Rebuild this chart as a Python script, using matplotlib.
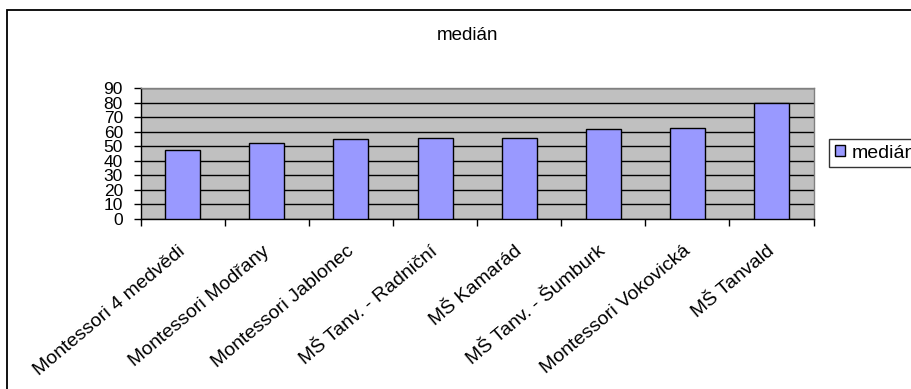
import numpy as np
import matplotlib
matplotlib.use('Agg')
import matplotlib.pyplot as plt
import matplotlib.patches as mpatches

# data
categories = ['Montessori 4 medvědi', 'Montessori Modřany', 'Montessori Jablonec',
              'MŠ Tanv. - Radniční', 'MŠ Kamarád', 'MŠ Tanv. - Šumburk',
              'Montessori Vokovická', 'MŠ Tanvald']
median_values = [47.2, 52.2, 54.8, 55.9, 55.9, 61.6, 62.8, 80.0]
y_ticks = [0, 10, 20, 30, 40, 50, 60, 70, 80, 90]
series_name = 'medián'

W, H = 912, 389
plt.rcParams['font.family'] = ['Liberation Sans', 'DejaVu Sans']


def plot_median(cats, values):
    fig = plt.figure(figsize=(W / 100, H / 100), dpi=100)
    fig.patch.set_facecolor('white')
    ax = fig.add_axes([140.7 / W, 1 - 218.7 / H, (813.5 - 140.7) / W, (218.7 - 88.3) / H])

    x = np.arange(len(cats))
    ax.set_facecolor('#c0c0c0')
    ax.bar(x, values, width=0.415, color='#9999ff', edgecolor='black',
           linewidth=1.0, label=series_name, zorder=3)

    ax.set_xlim(-0.5, len(cats) - 0.5)
    ax.set_ylim(0, 90)
    ax.set_yticks(y_ticks)
    ax.yaxis.grid(True, color='black', linewidth=1.0, zorder=1)
    ax.set_axisbelow(True)

    # ticks sit on the category boundaries, labels are placed at the centres
    ax.set_xticks(np.arange(len(cats) + 1) - 0.5)
    ax.set_xticklabels([])
    ax.tick_params(axis='x', direction='out', length=5, width=1)
    ax.tick_params(axis='y', direction='out', length=4.8, width=1, pad=8, labelsize=12.5)
    for i, cat in enumerate(cats):
        ax.annotate(cat, xy=(i, 0), xycoords=('data', 'axes fraction'),
                    xytext=(-3.6, -17.3), textcoords='offset points',
                    rotation=40, rotation_mode='anchor', ha='right', va='top',
                    fontsize=14)

    for side in ['top', 'right']:
        ax.spines[side].set_color('#808080')
        ax.spines[side].set_linewidth(1.0)
    for side in ['left', 'bottom']:
        ax.spines[side].set_color('black')
        ax.spines[side].set_linewidth(1.0)

    fig.text(467.8 / W, 1 - 35 / H, 'medián', ha='center', va='center', fontsize=13.5)

    leg = fig.legend(loc='center left', bbox_to_anchor=(828.7 / W, 1 - 153 / H),
                     fontsize=14, frameon=True, fancybox=False, edgecolor='black',
                     handlelength=0.55, handleheight=0.55, handletextpad=0.35,
                     borderpad=0.3, borderaxespad=0)
    leg.get_frame().set_linewidth(1.0)

    # outer chart border (cut off on right and bottom)
    frame = mpatches.Rectangle((7.5 / W, -0.1), 1.5, 1 - 10 / H + 0.1,
                               transform=fig.transFigure, fill=False,
                               edgecolor='black', linewidth=1.3)
    fig.add_artist(frame)

    fig.savefig('out.png', dpi=100)


def main():
    plot_median(categories, median_values)


if __name__ == '__main__':
    main()
